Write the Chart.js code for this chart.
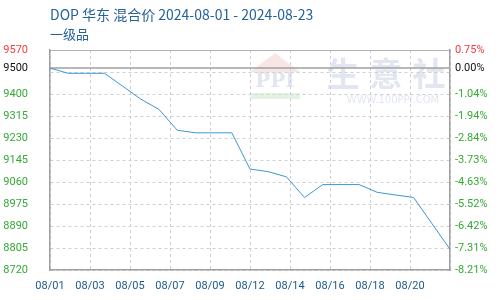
<!DOCTYPE html>
<html>
<head>
<meta charset="utf-8">
<script src="https://cdn.jsdelivr.net/npm/chart.js@4"></script>
<style>
  html, body { margin: 0; padding: 0; background: #fff; }
  #wrap { width: 500px; height: 300px; }
</style>
</head>
<body>
<div id="wrap"><canvas id="priceChart" width="500" height="300"></canvas></div>
<script>
// dates 08/01 .. 08/23, one price a day
const dates = ['08/01', '08/02', '08/03', '08/04', '08/05', '08/06', '08/07', '08/08', '08/09', '08/10', '08/11', '08/12',
               '08/13', '08/14', '08/15', '08/16', '08/17', '08/18', '08/19', '08/20', '08/21', '08/22', '08/23'];
const prices = [9500, 9480, 9480, 9480, 9430, 9380, 9340, 9260, 9250, 9250, 9250, 9110,
                9100, 9080, 9000, 9050, 9050, 9050, 9020, 9010, 9000, 8900, 8800];
const basePrice = 9500;

const yTicks = [8720, 8805, 8890, 8975, 9060, 9145, 9230, 9315, 9400, 9485, 9500, 9570];
const yLabels = ['8720', '8805', '8890', '8975', '9060', '9145', '9230', '9315', '9400', '', '9500', '9570'];
const pctLabels = ['-8.21%', '-7.31%', '-6.42%', '-5.52%', '-4.63%', '-3.73%', '-2.84%', '-1.94%', '-1.04%', '', '0.00%', '0.75%'];
const xTicks = [0, 2.2, 4.4, 6.6, 8.8, 11, 13.2, 15.4, 17.6, 19.8, 22];

const titleText = 'DOP 华东 混合价 2024-08-01 - 2024-08-23';
const subTitleText = '一级品';

const RED = '#f03c3c', GREEN = '#33aa33', BLACK = '#111';
const tickFont = { family: 'Roboto', size: 11 };

function tickColor(ctx) {
    const v = ctx.tick && ctx.tick.value;
    if (v === 9570) return RED;
    if (v === 9500) return BLACK;
    return GREEN;
}

const decorPlugin = {
    id: 'decor',
    beforeDatasetsDraw(chart) {
        const c = chart.ctx, a = chart.chartArea;
        c.save();
        // watermark logo
        c.fillStyle = 'rgba(240,200,200,0.45)';
        c.beginPath();
        c.moveTo(a.left + 225, a.top + 3);
        c.lineTo(a.left + 250, a.top + 22);
        c.lineTo(a.left + 200, a.top + 22);
        c.closePath();
        c.fill();
        c.fillStyle = 'rgba(200,230,200,0.5)';
        c.fillRect(a.left + 200, a.top + 43, 50, 6);
        c.fillStyle = 'rgba(200,210,228,0.55)';
        c.font = 'bold 20px "DejaVu Serif"';
        c.textAlign = 'center';
        c.textBaseline = 'middle';
        c.fillText('PPI', a.left + 225, a.top + 32);
        c.font = 'bold 33px "Noto Sans CJK SC"';
        ['生', '意', '社'].forEach((ch, i) => c.fillText(ch, a.left + 293 + i * 43, a.top + 23));
        c.font = '10px "DejaVu Sans"';
        c.fillText('WWW.100PPI.COM', a.left + 343, a.top + 50);
        c.restore();
    },
    afterDraw(chart) {
        const c = chart.ctx, a = chart.chartArea;
        c.save();
        c.fillStyle = '#24629a';
        c.textAlign = 'left';
        c.textBaseline = 'middle';
        c.font = '14px "Noto Sans CJK SC"';
        c.fillText(titleText, a.left, 15);
        c.font = '13px "Noto Sans CJK SC"';
        c.fillText(subTitleText, a.left, 34);
        c.restore();
    }
};

document.addEventListener('DOMContentLoaded', function() {
    const ctx = document.getElementById('priceChart').getContext('2d');

    new Chart(ctx, {
        type: 'line',
        data: {
            datasets: [
                {
                    label: 'base',
                    data: [{ x: 0, y: basePrice }, { x: dates.length - 1, y: basePrice }],
                    borderColor: '#a0a0a0',
                    borderWidth: 1.5,
                    pointRadius: 0,
                    order: 2
                },
                {
                    label: 'DOP',
                    data: prices.map((p, i) => ({ x: i, y: p })),
                    borderColor: '#3a96d6',
                    borderWidth: 1,
                    pointRadius: 0,
                    tension: 0,
                    order: 1
                }
            ]
        },
        options: {
            responsive: false,
            animation: false,
            events: [],
            layout: { padding: { top: 50, left: 0, right: 0, bottom: 0 } },
            plugins: {
                legend: { display: false },
                tooltip: { enabled: false }
            },
            scales: {
                x: {
                    type: 'linear',
                    min: 0,
                    max: dates.length - 1,
                    afterBuildTicks: scale => { scale.ticks = xTicks.map(v => ({ value: v })); },
                    afterFit: scale => { scale.height = 30; },
                    grid: { color: '#cfcfcf', drawTicks: false },
                    border: { color: '#a0a0a0', width: 1.5, dash: [3, 3] },
                    ticks: {
                        autoSkip: false,
                        maxRotation: 0,
                        padding: 10,
                        color: '#1d5a8c',
                        font: tickFont,
                        callback: (v, i) => i < xTicks.length - 1 ? dates[Math.floor(v + 1e-6)] : ''
                    }
                },
                xTop: {
                    type: 'linear',
                    position: 'top',
                    min: 0,
                    max: dates.length - 1,
                    afterFit: scale => { scale.height = 0; },
                    grid: { display: false, drawTicks: false },
                    border: { color: '#b4b4b4', width: 1 },
                    ticks: { display: false }
                },
                y: {
                    min: 8720,
                    max: 9570,
                    afterBuildTicks: scale => { scale.ticks = yTicks.map(v => ({ value: v })); },
                    afterFit: scale => { scale.width = 50; },
                    grid: {
                        drawTicks: false,
                        color: c => (c.tick && c.tick.value === 9500) ? 'rgba(0,0,0,0)' : '#cfcfcf'
                    },
                    border: { color: '#a0a0a0', width: 1.5, dash: [3, 3] },
                    ticks: {
                        autoSkip: false,
                        padding: 22,
                        color: tickColor,
                        font: tickFont,
                        callback: (v, i) => yLabels[i]
                    }
                },
                y2: {
                    position: 'right',
                    min: 8720,
                    max: 9570,
                    afterBuildTicks: scale => { scale.ticks = yTicks.map(v => ({ value: v })); },
                    afterFit: scale => { scale.width = 50; },
                    grid: { display: false, drawTicks: false },
                    border: { color: '#a0a0a0', width: 1.5 },
                    ticks: {
                        autoSkip: false,
                        padding: 5,
                        color: tickColor,
                        font: tickFont,
                        callback: (v, i) => pctLabels[i]
                    }
                }
            }
        },
        plugins: [decorPlugin]
    });
});
</script>
</body>
</html>
